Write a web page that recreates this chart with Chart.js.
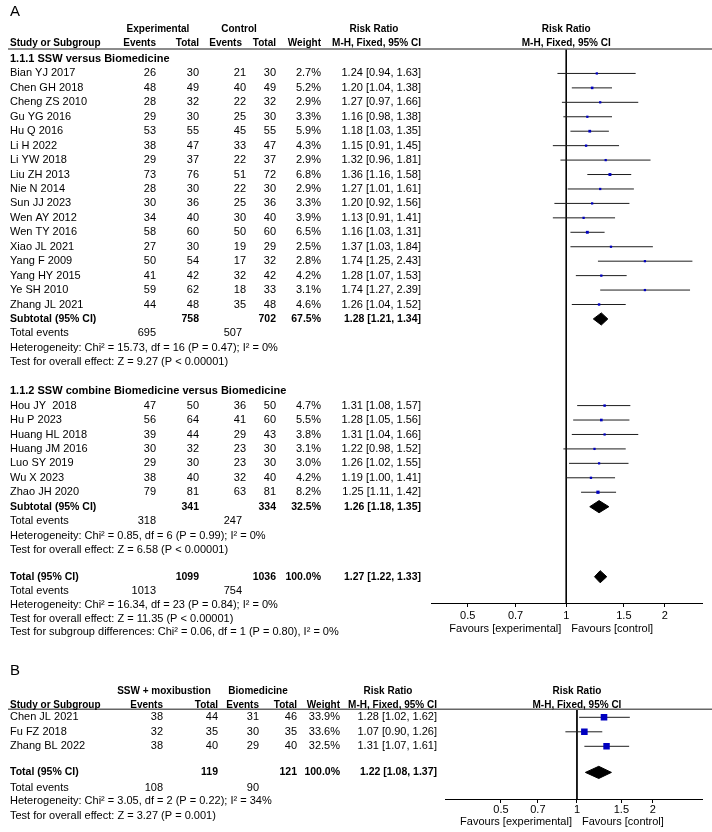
<!DOCTYPE html>
<html><head><meta charset="utf-8">
<script src="https://cdn.jsdelivr.net/npm/chart.js@4.4.1/dist/chart.umd.min.js"></script>
<style>
html,body{margin:0;padding:0;background:#fff;}
#wrapA{position:absolute;left:0;top:0;width:712px;height:650px;}
#wrapB{position:absolute;left:0;top:650px;width:712px;height:182px;}
canvas{display:block;}
</style></head><body>
<div id="wrapA"><canvas id="cA" width="712" height="650"></canvas></div>
<div id="wrapB"><canvas id="cB" width="712" height="182"></canvas></div>
<script>
// ---------- DATA: Panel A, subgroup 1.1.1 ----------
const studiesA1 = ['Bian YJ 2017','Chen GH 2018','Cheng ZS 2010','Gu YG 2016','Hu Q 2016','Li H 2022','Li YW 2018','Liu ZH 2013','Nie N 2014','Sun JJ 2023','Wen AY 2012','Wen TY 2016','Xiao JL 2021','Yang F 2009','Yang HY 2015','Ye SH 2010','Zhang JL 2021'];
const expEventsA1 = [26,48,28,29,53,38,29,73,28,30,34,58,27,50,41,59,44];
const expTotalA1  = [30,49,32,30,55,47,37,76,30,36,40,60,30,54,42,62,48];
const ctrlEventsA1 = [21,40,22,25,45,33,22,51,22,25,30,50,19,17,32,18,35];
const ctrlTotalA1  = [30,49,32,30,55,47,37,72,30,36,40,60,29,32,42,33,48];
const weightA1 = [2.7,5.2,2.9,3.3,5.9,4.3,2.9,6.8,2.9,3.3,3.9,6.5,2.5,2.8,4.2,3.1,4.6];
const rrA1 = [1.24,1.20,1.27,1.16,1.18,1.15,1.32,1.36,1.27,1.20,1.13,1.16,1.37,1.74,1.28,1.74,1.26];
const loA1 = [0.94,1.04,0.97,0.98,1.03,0.91,0.96,1.16,1.01,0.92,0.91,1.03,1.03,1.25,1.07,1.27,1.04];
const hiA1 = [1.63,1.38,1.66,1.38,1.35,1.45,1.81,1.58,1.61,1.56,1.41,1.31,1.84,2.43,1.53,2.39,1.52];
const subA1 = {expTotal:758, ctrlTotal:702, weight:67.5, rr:1.28, lo:1.21, hi:1.34, expEvents:695, ctrlEvents:507};
const hetA1 = 'Heterogeneity: Chi² = 15.73, df = 16 (P = 0.47); I² = 0%';
const testA1 = 'Test for overall effect: Z = 9.27 (P < 0.00001)';

// ---------- DATA: Panel A, subgroup 1.1.2 ----------
const studiesA2 = ['Hou JY  2018','Hu P 2023','Huang HL 2018','Huang JM 2016','Luo SY 2019','Wu X 2023','Zhao JH 2020'];
const expEventsA2 = [47,56,39,30,29,38,79];
const expTotalA2  = [50,64,44,32,30,40,81];
const ctrlEventsA2 = [36,41,29,23,23,32,63];
const ctrlTotalA2  = [50,60,43,30,30,40,81];
const weightA2 = [4.7,5.5,3.8,3.1,3.0,4.2,8.2];
const rrA2 = [1.31,1.28,1.31,1.22,1.26,1.19,1.25];
const loA2 = [1.08,1.05,1.04,0.98,1.02,1.00,1.11];
const hiA2 = [1.57,1.56,1.66,1.52,1.55,1.41,1.42];
const subA2 = {expTotal:341, ctrlTotal:334, weight:32.5, rr:1.26, lo:1.18, hi:1.35, expEvents:318, ctrlEvents:247};
const hetA2 = 'Heterogeneity: Chi² = 0.85, df = 6 (P = 0.99); I² = 0%';
const testA2 = 'Test for overall effect: Z = 6.58 (P < 0.00001)';

// ---------- DATA: Panel A total ----------
const totA = {expTotal:1099, ctrlTotal:1036, weight:100.0, rr:1.27, lo:1.22, hi:1.33, expEvents:1013, ctrlEvents:754};
const hetA = 'Heterogeneity: Chi² = 16.34, df = 23 (P = 0.84); I² = 0%';
const testA = 'Test for overall effect: Z = 11.35 (P < 0.00001)';
const subgroupA = 'Test for subgroup differences: Chi² = 0.06, df = 1 (P = 0.80), I² = 0%';

// ---------- DATA: Panel B ----------
const studiesB = ['Chen JL 2021','Fu FZ 2018','Zhang BL 2022'];
const expEventsB = [38,32,38];
const expTotalB  = [44,35,40];
const ctrlEventsB = [31,30,29];
const ctrlTotalB  = [46,35,40];
const weightB = [33.9,33.6,32.5];
const rrB = [1.28,1.07,1.31];
const loB = [1.02,0.90,1.07];
const hiB = [1.62,1.26,1.61];
const totB = {expTotal:119, ctrlTotal:121, weight:100.0, rr:1.22, lo:1.08, hi:1.37, expEvents:108, ctrlEvents:90};
const hetB = 'Heterogeneity: Chi² = 3.05, df = 2 (P = 0.22); I² = 34%';
const testB = 'Test for overall effect: Z = 3.27 (P = 0.001)';

// ---------- axis ticks ----------
const tickValsA = [0.5, 0.7, 1, 1.5, 2];
const tickValsB = [0.5, 0.7, 1, 1.5, 2];
const favoursLeft = 'Favours [experimental]';
const favoursRight = 'Favours [control]';

// ---------- rendering ----------
const FONT = '"Liberation Sans", Arial, Helvetica, sans-serif';
const MARK = '#0000c0';
const CI_COLOR = '#1e1e1e';
const DIA_H = 0.42;
const HDR = 10;     // column header bold size
const BOLD = 10.5;  // subtotal / total rows
const TITLE = 11;   // subgroup titles

function fmtRR(o){ return o.rr.toFixed(2)+' ['+o.lo.toFixed(2)+', '+o.hi.toFixed(2)+']'; }
function fmtW(w){ return w.toFixed(1)+'%'; }
function markerRadius(w){ return Math.max(1.6, 0.8*Math.sqrt(w)); }

function makeForest(canvasId, cfg){
  const datasets = [];
  datasets.push({
    type:'scatter',
    data: cfg.points.map(p=>({x:p.est, y:p.r})),
    pointStyle:'rect',
    pointRadius: cfg.points.map(p=>markerRadius(p.w)),
    pointHoverRadius: cfg.points.map(p=>markerRadius(p.w)),
    backgroundColor: MARK, borderColor: MARK, borderWidth:0, order:0
  });
  cfg.points.forEach(p=>{
    datasets.push({type:'line', data:[{x:p.lo,y:p.r},{x:p.hi,y:p.r}], borderColor:CI_COLOR, borderWidth:1, pointRadius:0, fill:false, tension:0, order:2});
  });
  cfg.diamonds.forEach(d=>{
    datasets.push({type:'line', data:[{x:d.lo,y:d.r},{x:d.rr,y:d.r-DIA_H},{x:d.hi,y:d.r},{x:d.rr,y:d.r+DIA_H},{x:d.lo,y:d.r}],
      borderColor:'#000', backgroundColor:'#000', borderWidth:1, pointRadius:0, fill:'shape', tension:0, order:1});
  });
  datasets.push({type:'line', data:[{x:1,y:cfg.ymin},{x:1,y:cfg.ymax}], borderColor:'#000', borderWidth:1, pointRadius:0, fill:false, order:3});

  const textPlugin = {
    id:'forestText_'+canvasId,
    afterDraw(chart){
      const ctx = chart.ctx;
      const ys = chart.scales.y, xs = chart.scales.x;
      const px1 = xs.getPixelForValue(1);
      const ca = chart.chartArea;
      ctx.save();
      ctx.strokeStyle = '#666'; ctx.lineWidth = 1.5;
      ctx.beginPath(); ctx.moveTo(8, ca.top); ctx.lineTo(712, ca.top); ctx.stroke();
      ctx.fillStyle = '#000'; ctx.textBaseline = 'middle';
      cfg.texts.forEach(t=>{
        ctx.font = (t.bold?'bold ':'') + (t.size||11) + 'px ' + FONT;
        ctx.textAlign = t.align || 'left';
        const x = (t.x === 'px1') ? px1 : t.x;
        ctx.fillText(t.t, x, ys.getPixelForValue(t.r));
      });
      ctx.font = '11px ' + FONT;
      const fy = ca.bottom + cfg.favoursOffset;
      ctx.textAlign = 'right'; ctx.fillText(favoursLeft, px1 - 5, fy);
      ctx.textAlign = 'left'; ctx.fillText(favoursRight, px1 + 5, fy);
      ctx.restore();
    }
  };

  return new Chart(document.getElementById(canvasId), {
    type:'scatter',
    data:{datasets},
    options:{
      responsive:false, animation:false, devicePixelRatio:1, events:[],
      layout:{padding:{left:cfg.left, right:cfg.right, top:cfg.top, bottom:0}},
      plugins:{legend:{display:false}, tooltip:{enabled:false}},
      scales:{
        x:{type:'logarithmic', min:cfg.xmin, max:cfg.xmax,
           afterFit:(s)=>{ s.height = cfg.axisH; },
           afterBuildTicks:(s)=>{ s.ticks = cfg.ticks.map(v=>({value:v})); },
           ticks:{autoSkip:false, maxRotation:0, minRotation:0, padding:cfg.tickPad, color:'#000', font:{family:FONT, size:11}, callback:(v)=>String(v)},
           grid:{drawOnChartArea:false, drawTicks:true, tickLength:4, color:'#000', tickColor:'#000'},
           border:{display:true, color:'#000', width:1}},
        y:{type:'linear', display:false, min:cfg.ymin, max:cfg.ymax, reverse:true, bounds:'data'}
      }
    },
    plugins:[textPlugin]
  });
}

// ---------- Panel A layout ----------
(function(){
  const texts = [];
  const add = (r,t,x,align,bold,size)=>texts.push({r,t,x,align,bold,size});
  const C = {study:10, eE:156, eT:199, cE:246, cT:276, w:321, rr:421, cEtot:242};
  add(-3.25,'A',10,'left',false,15);
  add(-2.07,'Experimental',158,'center',true,HDR);
  add(-2.07,'Control',239,'center',true,HDR);
  add(-2.07,'Risk Ratio',374,'center',true,HDR);
  add(-2.07,'Risk Ratio','px1','center',true,HDR);
  add(-1.1,'Study or Subgroup',C.study,'left',true,HDR);
  add(-1.1,'Events',C.eE,'right',true,HDR);
  add(-1.1,'Total',C.eT,'right',true,HDR);
  add(-1.1,'Events',C.cEtot,'right',true,HDR);
  add(-1.1,'Total',C.cT,'right',true,HDR);
  add(-1.1,'Weight',C.w,'right',true,HDR);
  add(-1.1,'M-H, Fixed, 95% CI',C.rr,'right',true,HDR);
  add(-1.1,'M-H, Fixed, 95% CI','px1','center',true,HDR);

  const points = [], diamonds = [];
  function group(r0, title, st, eE, eT, cE, cT, w, rr, lo, hi, sub, het, test){
    add(r0, title, C.study, 'left', true, TITLE);
    st.forEach((s,i)=>{
      const r = r0+1+i;
      add(r, s, C.study, 'left');
      add(r, String(eE[i]), C.eE, 'right');
      add(r, String(eT[i]), C.eT, 'right');
      add(r, String(cE[i]), C.cE, 'right');
      add(r, String(cT[i]), C.cT, 'right');
      add(r, fmtW(w[i]), C.w, 'right');
      add(r, fmtRR({rr:rr[i],lo:lo[i],hi:hi[i]}), C.rr, 'right');
      points.push({r, est:rr[i], lo:lo[i], hi:hi[i], w:w[i]});
    });
    const rs = r0+1+st.length;
    add(rs, 'Subtotal (95% CI)', C.study, 'left', true, BOLD);
    add(rs, String(sub.expTotal), C.eT, 'right', true, BOLD);
    add(rs, String(sub.ctrlTotal), C.cT, 'right', true, BOLD);
    add(rs, fmtW(sub.weight), C.w, 'right', true, BOLD);
    add(rs, fmtRR(sub), C.rr, 'right', true, BOLD);
    diamonds.push({r:rs, rr:sub.rr, lo:sub.lo, hi:sub.hi});
    add(rs+1, 'Total events', C.study, 'left');
    add(rs+1, String(sub.expEvents), C.eE, 'right');
    add(rs+1, String(sub.ctrlEvents), C.cEtot, 'right');
    add(rs+2, het, C.study, 'left');
    add(rs+3, test, C.study, 'left');
  }
  group(0, '1.1.1 SSW versus Biomedicine', studiesA1, expEventsA1, expTotalA1, ctrlEventsA1, ctrlTotalA1, weightA1, rrA1, loA1, hiA1, subA1, hetA1, testA1);
  group(23, '1.1.2 SSW combine Biomedicine versus Biomedicine', studiesA2, expEventsA2, expTotalA2, ctrlEventsA2, ctrlTotalA2, weightA2, rrA2, loA2, hiA2, subA2, hetA2, testA2);
  const rt = 35.85;
  add(rt, 'Total (95% CI)', C.study, 'left', true, BOLD);
  add(rt, String(totA.expTotal), C.eT, 'right', true, BOLD);
  add(rt, String(totA.ctrlTotal), C.cT, 'right', true, BOLD);
  add(rt, fmtW(totA.weight), C.w, 'right', true, BOLD);
  add(rt, fmtRR(totA), C.rr, 'right', true, BOLD);
  diamonds.push({r:rt, rr:totA.rr, lo:totA.lo, hi:totA.hi});
  add(36.85, 'Total events', C.study, 'left');
  add(36.85, String(totA.expEvents), C.eE, 'right');
  add(36.85, String(totA.ctrlEvents), C.cEtot, 'right');
  add(37.8, hetA, C.study, 'left');
  add(38.75, testA, C.study, 'left');
  add(39.7, subgroupA, C.study, 'left');

  makeForest('cA', {points, diamonds, texts, left:431, right:10, top:49, axisH:47, tickPad:2,
    xmin:0.386, xmax:2.6, ymin:-0.6925, ymax:37.67, ticks:tickValsA, favoursOffset:26});
})();

// ---------- Panel B layout ----------
(function(){
  const texts = [];
  const add = (r,t,x,align,bold,size)=>texts.push({r,t,x,align,bold,size});
  const C = {study:10, eE:163, eT:218, cE:259, cT:297, w:340, rr:437};
  add(-3.19,'B',10,'left',false,15);
  add(-1.81,'SSW + moxibustion',164,'center',true,HDR);
  add(-1.81,'Biomedicine',258,'center',true,HDR);
  add(-1.81,'Risk Ratio',388,'center',true,HDR);
  add(-1.81,'Risk Ratio','px1','center',true,HDR);
  add(-0.85,'Study or Subgroup',C.study,'left',true,HDR);
  add(-0.85,'Events',C.eE,'right',true,HDR);
  add(-0.85,'Total',C.eT,'right',true,HDR);
  add(-0.85,'Events',C.cE,'right',true,HDR);
  add(-0.85,'Total',C.cT,'right',true,HDR);
  add(-0.85,'Weight',C.w,'right',true,HDR);
  add(-0.85,'M-H, Fixed, 95% CI',C.rr,'right',true,HDR);
  add(-0.85,'M-H, Fixed, 95% CI','px1','center',true,HDR);
  const points = [];
  studiesB.forEach((s,i)=>{
    const r = i;
    add(r, s, C.study, 'left');
    add(r, String(expEventsB[i]), C.eE, 'right');
    add(r, String(expTotalB[i]), C.eT, 'right');
    add(r, String(ctrlEventsB[i]), C.cE, 'right');
    add(r, String(ctrlTotalB[i]), C.cT, 'right');
    add(r, fmtW(weightB[i]), C.w, 'right');
    add(r, fmtRR({rr:rrB[i],lo:loB[i],hi:hiB[i]}), C.rr, 'right');
    points.push({r, est:rrB[i], lo:loB[i], hi:hiB[i], w:weightB[i]});
  });
  const rt = 3.8;
  add(rt, 'Total (95% CI)', C.study, 'left', true, BOLD);
  add(rt, String(totB.expTotal), C.eT, 'right', true, BOLD);
  add(rt, String(totB.ctrlTotal), C.cT, 'right', true, BOLD);
  add(rt, fmtW(totB.weight), C.w, 'right', true, BOLD);
  add(rt, fmtRR(totB), C.rr, 'right', true, BOLD);
  const diamonds = [{r:rt, rr:totB.rr, lo:totB.lo, hi:totB.hi}];
  add(4.85, 'Total events', C.study, 'left');
  add(4.85, String(totB.expEvents), C.eE, 'right');
  add(4.85, String(totB.ctrlEvents), C.cE, 'right');
  add(5.8, hetB, C.study, 'left');
  add(6.8, testB, C.study, 'left');

  makeForest('cB', {points, diamonds, texts, left:445, right:10, top:59.3, axisH:33, tickPad:0,
    xmin:0.32, xmax:3.13, ymin:-0.5517, ymax:5.634, ticks:tickValsB, favoursOffset:22.5});
})();
</script>
</body></html>
